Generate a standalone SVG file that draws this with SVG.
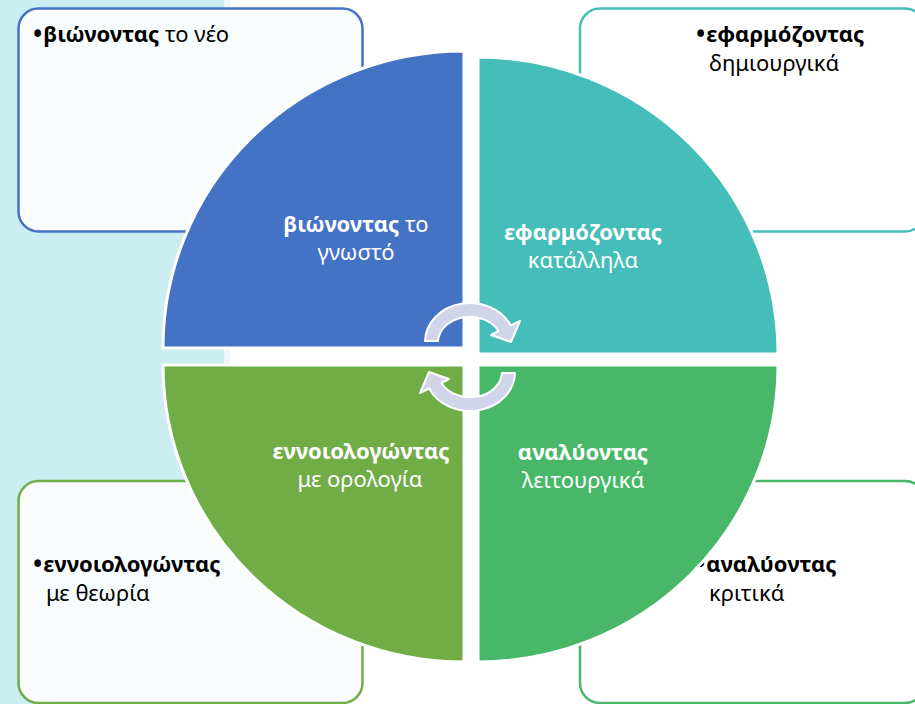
<svg xmlns="http://www.w3.org/2000/svg" width="915" height="704" viewBox="0 0 915 704">
  <style>
    .box { stroke-width: 2.5; }
    .bt { font-family: "Noto Sans", "Open Sans", "DejaVu Sans", sans-serif; font-size: 22px; fill: #000000; }
    .qt { font-family: "Noto Sans", "Open Sans", "DejaVu Sans", sans-serif; font-size: 22px; fill: #FFFFFF; text-anchor: middle; }
    .b { font-weight: bold; }
    .bul { font-size: 30px; }
    .quad { stroke: #FFFFFF; stroke-width: 3; }
    .arr { fill: #D0D5EA; stroke: #FFFFFF; stroke-width: 2; stroke-linejoin: round; }
  </style>
  <rect x="0" y="0" width="915" height="704" fill="#FFFFFF"/>
  <rect x="0" y="0" width="224" height="704" fill="#CCEEF3"/>
  <rect x="224" y="0" width="6" height="704" fill="#EEF8FA"/>

  <g id="box-top-left">
    <rect class="box" x="18.5" y="8.5" width="344" height="223" rx="20" fill="#F8FCFD" stroke="#4472C4"/>
    <text class="bt" x="32" y="42"><tspan class="bul" dy="3">•</tspan><tspan class="b" dy="-3">βιώνοντας</tspan> το νέο</text>
  </g>
  <g id="box-top-right">
    <rect class="box" x="580" y="8.5" width="345" height="223" rx="20" fill="#FFFFFF" stroke="#45BDB8"/>
    <text class="bt" x="695" y="42"><tspan class="bul" dy="3">•</tspan><tspan class="b" dy="-3">εφαρμόζοντας</tspan></text>
    <text class="bt" x="709" y="71">δημιουργικά</text>
  </g>
  <g id="box-bottom-left">
    <rect class="box" x="18.5" y="481" width="344" height="222" rx="20" fill="#F8FCFD" stroke="#70AD47"/>
    <text class="bt" x="32" y="572"><tspan class="bul" dy="3">•</tspan><tspan class="b" dy="-3">εννοιολογώντας</tspan></text>
    <text class="bt" x="46" y="601">με θεωρία</text>
  </g>
  <g id="box-bottom-right">
    <rect class="box" x="580" y="481" width="345" height="222" rx="20" fill="#FFFFFF" stroke="#48B868"/>
    <text class="bt" x="695" y="572"><tspan class="bul" dy="3">•</tspan><tspan class="b" dy="-3">αναλύοντας</tspan></text>
    <text class="bt" x="709" y="601">κριτικά</text>
  </g>

  <g id="quad-top-left">
    <path class="quad" d="M464,348 L163,348 A301,297 0 0 1 464,51 Z" fill="#4472C4"/>
    <text class="qt" x="356" y="232"><tspan class="b">βιώνοντας</tspan> το</text>
    <text class="qt" x="356" y="260">γνωστό</text>
  </g>
  <g id="quad-top-right">
    <path class="quad" d="M478,354 L478,57 A300,297 0 0 1 778,354 Z" fill="#45BDB8"/>
    <text class="qt b" x="583" y="240">εφαρμόζοντας</text>
    <text class="qt" x="583" y="268">κατάλληλα</text>
  </g>
  <g id="quad-bottom-left">
    <path class="quad" d="M464,365 L464,662 A301,297 0 0 1 163,365 Z" fill="#70AD47"/>
    <text class="qt b" x="361" y="459">εννοιολογώντας</text>
    <text class="qt" x="360" y="487">με ορολογία</text>
  </g>
  <g id="quad-bottom-right">
    <path class="quad" d="M478,365 L778,365 A300,297 0 0 1 478,662 Z" fill="#48B868"/>
    <text class="qt b" x="583" y="460">αναλύοντας</text>
    <text class="qt" x="583" y="488">λειτουργικά</text>
  </g>

  <g id="connectors">
    <path id="arrow-top" class="arr" d="M425,341 A45,39 0 0 1 510.8,325.5 L520,321 L511,342 L491,335 L498.5,331 A32,26 0 0 0 438,341 Z"/>
    <path id="arrow-bottom" class="arr" transform="rotate(180 470 357)" d="M425,341 A45,39 0 0 1 510.8,325.5 L520,321 L511,342 L491,335 L498.5,331 A32,26 0 0 0 438,341 Z"/>
  </g>
</svg>
